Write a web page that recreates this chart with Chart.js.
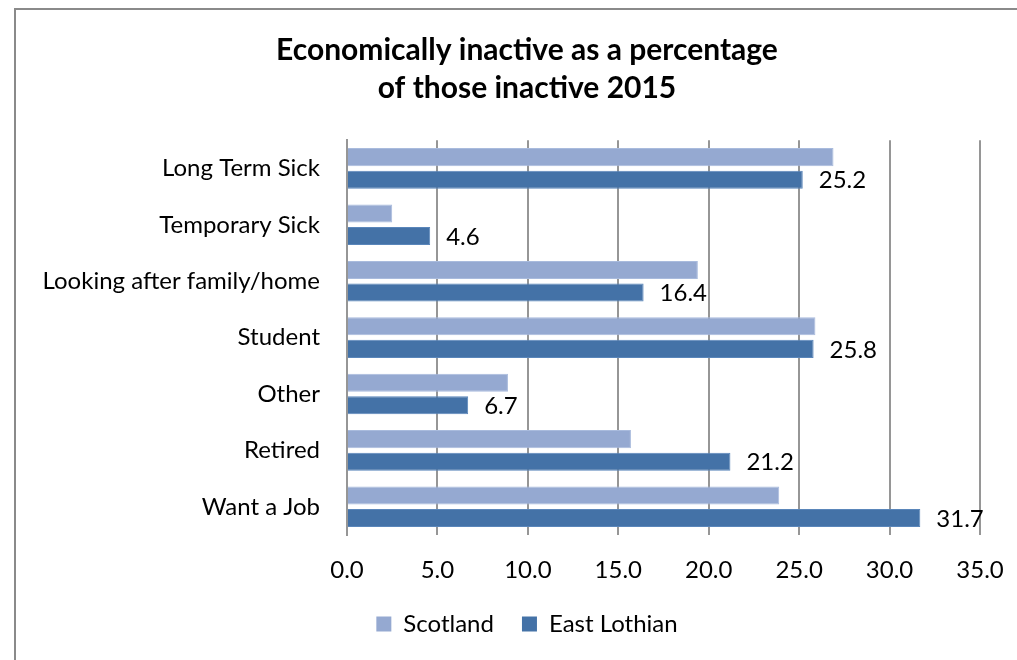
<!DOCTYPE html>
<html>
<head>
<meta charset="utf-8">
<script src="https://cdn.jsdelivr.net/npm/chart.js@4"></script>
<style>
  html, body { margin: 0; padding: 0; background: #fff; }
  #wrap { width: 1017px; height: 660px; }
</style>
</head>
<body>
<div id="wrap"><canvas id="barChart" width="1017" height="660"></canvas></div>
<script>
const categories = ['Long Term Sick', 'Temporary Sick', 'Looking after family/home', 'Student', 'Other', 'Retired', 'Want a Job'];
const scotland = [26.9, 2.5, 19.4, 25.9, 8.9, 15.7, 23.9];
const eastLothian = [25.2, 4.6, 16.4, 25.8, 6.7, 21.2, 31.7];
const xTicks = [0, 5, 10, 15, 20, 25, 30, 35];

const FONT = 'Lato, "Liberation Sans", sans-serif';

// grey frame round the chart (only left and top edges fall inside the canvas)
const frame = {
    id: 'frame',
    beforeDraw(chart) {
        const ctx = chart.ctx;
        ctx.save();
        ctx.strokeStyle = '#8a8a8a';
        ctx.lineWidth = 2;
        ctx.beginPath();
        ctx.moveTo(15, 670);
        ctx.lineTo(15, 9);
        ctx.lineTo(1030, 9);
        ctx.stroke();
        ctx.restore();
    }
};

// let the long category names run into the left padding instead of being clipped
const wideLabels = {
    id: 'wideLabels',
    afterLayout(chart) {
        chart.scales.y.left = 0;
    }
};

// value labels after the East Lothian bars
const valueLabels = {
    id: 'valueLabels',
    afterDatasetsDraw(chart) {
        const ctx = chart.ctx;
        const meta = chart.getDatasetMeta(1);
        ctx.save();
        ctx.font = '24px ' + FONT;
        ctx.fillStyle = '#000';
        ctx.textAlign = 'left';
        ctx.textBaseline = 'middle';
        meta.data.forEach(function(bar, i) {
            ctx.fillText(eastLothian[i].toFixed(1), bar.x + 16, bar.y + 1);
        });
        ctx.restore();
    }
};

const ctx = document.getElementById('barChart').getContext('2d');
new Chart(ctx, {
    type: 'bar',
    data: {
        labels: categories,
        datasets: [{
            label: 'Scotland',
            data: scotland,
            backgroundColor: '#95a9d1',
            borderColor: '#a9bbdd',
            borderWidth: 1,
            categoryPercentage: 0.8,
            barPercentage: 0.8
        }, {
            label: 'East Lothian',
            data: eastLothian,
            backgroundColor: '#4472a7',
            borderColor: '#5a86ba',
            borderWidth: 1,
            categoryPercentage: 0.8,
            barPercentage: 0.8
        }]
    },
    options: {
        indexAxis: 'y',
        responsive: false,
        animation: false,
        layout: {
            padding: { left: 74, right: 37, top: 0, bottom: 14 }
        },
        plugins: {
            title: {
                display: true,
                text: ['Economically inactive as a percentage', 'of those inactive 2015'],
                color: '#000',
                font: { family: FONT, size: 30, weight: 'bold', lineHeight: 1.27 },
                padding: { top: 31, bottom: 33 }
            },
            legend: {
                position: 'bottom',
                labels: {
                    color: '#000',
                    font: { family: FONT, size: 24 },
                    boxWidth: 15,
                    boxHeight: 15,
                    padding: 28,
                    generateLabels(chart) {
                        return chart.data.datasets.map(function(ds, i) {
                            return {
                                text: ds.label,
                                fillStyle: ds.backgroundColor,
                                strokeStyle: ds.backgroundColor,
                                lineWidth: 0,
                                datasetIndex: i
                            };
                        });
                    }
                }
            },
            tooltip: { enabled: false }
        },
        scales: {
            x: {
                min: 0,
                max: 35,
                afterBuildTicks(scale) {
                    scale.ticks = xTicks.map(v => ({ value: v }));
                },
                afterFit(scale) {
                    scale.height = 49;
                    scale.paddingLeft = 0;
                    scale.paddingRight = 0;
                },
                ticks: {
                    color: '#000',
                    font: { family: FONT, size: 24 },
                    padding: 21,
                    callback: v => v.toFixed(1)
                },
                grid: {
                    color: '#969696',
                    lineWidth: 2,
                    drawTicks: false
                },
                border: { display: false }
            },
            y: {
                afterFit(scale) {
                    scale.width = 273;
                },
                ticks: {
                    color: '#000',
                    font: { family: FONT, size: 24 },
                    padding: 27
                },
                grid: { display: false, drawTicks: false },
                border: { display: true, color: '#969696', width: 2 }
            }
        }
    },
    plugins: [frame, wideLabels, valueLabels]
});
</script>
</body>
</html>
